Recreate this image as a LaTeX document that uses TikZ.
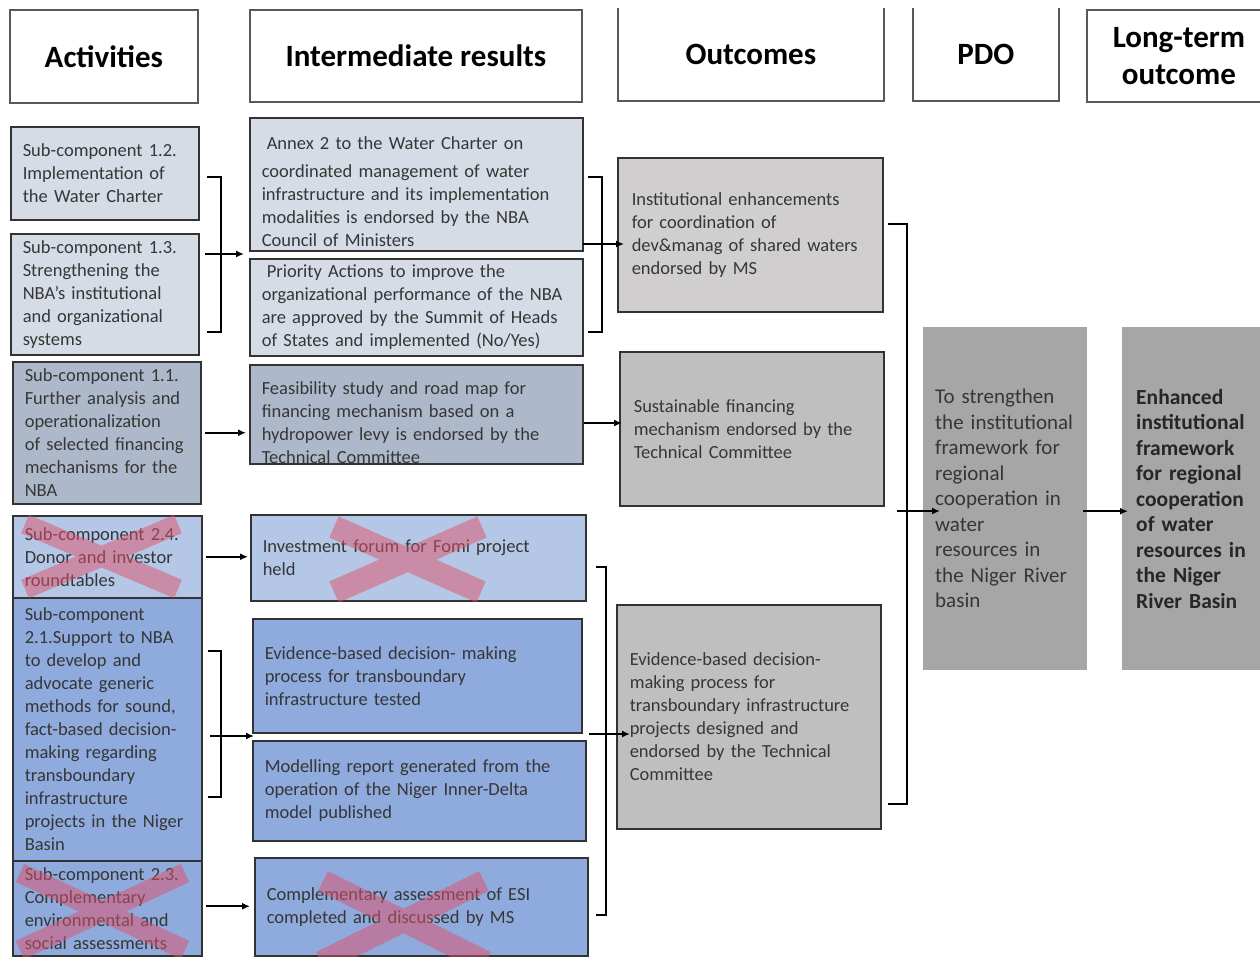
\documentclass[tikz,border=0pt]{standalone}
\usepackage{fontspec}
\setmainfont{Carlito}
\usetikzlibrary{arrows.meta}
\definecolor{cA}{HTML}{D6DCE5}
\definecolor{cB}{HTML}{ADB9CA}
\definecolor{cC}{HTML}{B4C7E7}
\definecolor{cD}{HTML}{8FAADC}
\definecolor{cE}{HTML}{D0CECE}
\definecolor{cF}{HTML}{BFBFBF}
\definecolor{cG}{HTML}{A6A6A6}
\definecolor{crossc}{RGB}{225,80,105}
\definecolor{txt}{HTML}{363636}
\begin{document}
\begin{tikzpicture}[x=1pt,y=-1pt,
  box/.style={draw=black!80, line width=1.5pt, anchor=north west, inner xsep=12pt, inner ysep=0pt,
    align=left, font=\fontsize{18.5}{23}\selectfont, text=txt},
  hdr/.style={draw=black!65, line width=1.8pt, anchor=north west, inner sep=0pt, align=center,
    font=\fontsize{31}{37}\selectfont\bfseries, text=black},
  hdrnb/.style={hdr, draw=none},
  hline/.style={draw=black!65, line width=1.8pt},
  goal/.style={anchor=north west, fill=cG, inner xsep=12pt, inner ysep=0pt, align=left, text=txt,
    font=\fontsize{21}{25.5}\selectfont},
  brk/.style={draw=black, line width=1.6pt},
  arr/.style={-{Latex[length=8pt,width=7pt]}, line width=1.6pt},
  xcross/.style={draw=crossc, draw opacity=0.5, line cap=butt}
]
\useasboundingbox (0,0) rectangle (1260,956);
\clip (0,0) rectangle (1260,956);

% ---------- headers ----------
\node[hdr, minimum width=188pt, minimum height=93pt] (ha) at (9,9) {Activities};
\node[hdr, minimum width=332pt, minimum height=92pt] (hi) at (249,9) {Intermediate results};
\node[hdrnb, minimum width=264pt, minimum height=91pt] (ho) at (618,8) {Outcomes};
\draw[hline] (ho.north west) -- (ho.south west) -- (ho.south east) -- (ho.north east);
\node[hdrnb, minimum width=144pt, minimum height=91pt] (hp) at (913,8) {PDO};
\draw[hline] (hp.north west) -- (hp.south west) -- (hp.south east) -- (hp.north east);
\node[hdr, minimum width=184pt, minimum height=92pt] (hl) at (1086,9) {Long-term\\outcome};

% ---------- activities ----------
\node[box, fill=cA, minimum width=188pt, minimum height=93pt, text width=164pt] (s12) at (10,126)
  {Sub-component 1.2.\\Implementation of\\the Water Charter};
\node[box, fill=cA, minimum width=188pt, minimum height=121pt, text width=164pt] (s13) at (10,233)
  {Sub-component 1.3.\\Strengthening the\\NBA's institutional\\and organizational\\systems};
\node[box, fill=cB, minimum width=188pt, minimum height=142pt, text width=164pt] (s11) at (12,361)
  {Sub-component 1.1.\\Further analysis and\\operationalization\\of selected financing\\mechanisms for the\\NBA};
\node[box, fill=cC, minimum width=189pt, minimum height=82pt, text width=165pt] (s24) at (12,515)
  {Sub-component 2.4.\\Donor and investor\\roundtables};
\node[box, fill=cD, minimum width=189pt, minimum height=263pt, text width=165pt] (s21) at (12,597)
  {Sub-component\\2.1.Support to NBA\\to develop and\\advocate generic\\methods for sound,\\fact-based decision-\\making regarding\\transboundary\\infrastructure\\projects in the Niger\\Basin};
\node[box, fill=cD, minimum width=189pt, minimum height=95pt, text width=165pt] (s23) at (12,860)
  {Sub-component 2.3.\\Complementary\\environmental and\\social assessments};

% ---------- intermediate results ----------
\node[box, fill=cA, minimum width=333pt, minimum height=133pt, text width=309pt] (ann) at (249,117)
  {\rule{0pt}{28pt}\hspace*{5pt}Annex 2 to the Water Charter on\\[5pt]coordinated management of water\\infrastructure and its implementation\\modalities is endorsed by the NBA\\Council of Ministers};
\node[box, fill=cA, minimum width=333pt, minimum height=97pt, text width=309pt] (pri) at (249,258)
  {\hspace*{5pt}Priority Actions to improve the\\organizational performance of the NBA\\are approved by the Summit of Heads\\of States and implemented (No/Yes)};
\node[box, fill=cB, minimum width=333pt, minimum height=98pt, text width=309pt] (fea) at (249,364)
  {\rule{0pt}{30pt}Feasibility study and road map for\\financing mechanism based on a\\hydropower levy is endorsed by the\\Technical Committee};
\node[box, fill=cC, minimum width=335pt, minimum height=86pt, text width=311pt] (inv) at (250,514)
  {Investment forum for Fomi project\\held};
\node[box, fill=cD, minimum width=329pt, minimum height=114pt, text width=305pt] (evi) at (252,618)
  {Evidence-based decision- making\\process for transboundary\\infrastructure tested};
\node[box, fill=cD, minimum width=333pt, minimum height=100pt, text width=309pt] (mod) at (252,740)
  {Modelling report generated from the\\operation of the Niger Inner-Delta\\model published};
\node[box, fill=cD, minimum width=333pt, minimum height=98pt, text width=309pt] (com) at (254,857)
  {Complementary assessment of ESI\\completed and discussed by MS};

% ---------- outcomes ----------
\node[box, fill=cE, minimum width=265pt, minimum height=154pt, inner xsep=14pt, text width=237pt] (oin) at (617,157)
  {Institutional enhancements\\for coordination of\\dev\&manag of shared waters\\endorsed by MS};
\node[box, fill=cF, minimum width=264pt, minimum height=154pt, inner xsep=14pt, text width=236pt] (osu) at (619,351)
  {Sustainable financing\\mechanism endorsed by the\\Technical Committee};
\node[box, fill=cF, minimum width=264pt, minimum height=224pt, inner xsep=13pt, text width=238pt] (oev) at (616,604)
  {Evidence-based decision-\\making process for\\transboundary infrastructure\\projects designed and\\endorsed by the Technical\\Committee};

% ---------- PDO and long-term ----------
\node[goal, minimum width=164pt, minimum height=343pt, text width=140pt] (pdo) at (923,327)
  {To strengthen\\the institutional\\framework for\\regional\\cooperation in\\water\\resources in\\the Niger River\\basin};
\node[goal, minimum width=150pt, minimum height=343pt, inner xsep=14pt, text width=122pt,
  font=\fontsize{21.5}{25.5}\selectfont\bfseries, text=black!85] (lt) at (1122,327)
  {Enhanced\\institutional\\framework\\for regional\\cooperation\\of water\\resources in\\the Niger\\River Basin};

% ---------- crosses ----------
\begin{scope}
  \clip (s24.north west) rectangle (s24.south east);
  \draw[xcross, line width=20pt] (25,524) -- (178,589) (178,524) -- (25,589);
\end{scope}
\begin{scope}
  \clip (s23.north west) rectangle (s23.south east);
  \draw[xcross, line width=20pt] (20,873) -- (185,950) (185,873) -- (20,950);
\end{scope}
\begin{scope}
  \clip (inv.north west) rectangle (inv.south east);
  \draw[xcross, line width=23pt] (334,527) -- (481,592) (482,527) -- (334,592);
\end{scope}
\begin{scope}
  \clip (com.north west) rectangle (com.south east);
  \draw[xcross, line width=22pt] (323,881) -- (486,962) (484,881) -- (321,962);
\end{scope}

% ---------- brackets and arrows ----------
\coordinate (ab1t) at (207,177);
\coordinate (ab1b) at (207,332);
\coordinate (ab1s) at (205,254);
\coordinate (ab1e) at (244,254);
\draw[brk] (ab1t) -- ++(14,0) |- (ab1b);
\draw[arr] (ab1s) -- (ab1e);

\draw[arr, shorten <=3pt, shorten >=3pt] (s11.east) -- (s11.east -| fea.west);
\draw[arr, shorten <=3pt, shorten >=2pt] (s24.east) -- (s24.east -| inv.west);

\coordinate (ab2t) at (208,651);
\coordinate (ab2b) at (208,797);
\coordinate (ab2s) at (210,736);
\coordinate (ab2e) at (254,736);
\draw[brk] (ab2t) -- ++(13,0) |- (ab2b);
\draw[arr] (ab2s) -- (ab2e);

\draw[arr, shorten <=3pt, shorten >=4pt] ([yshift=2pt]s23.east) -- ([yshift=2pt]s23.east -| com.west);

\coordinate (ib1t) at (588,177);
\coordinate (ib1b) at (588,332);
\coordinate (ib1s) at (583,244);
\coordinate (ib1e) at (624,244);
\draw[brk] (ib1t) -- ++(14,0) |- (ib1b);
\draw[arr] (ib1s) -- (ib1e);

\coordinate (fos) at (584,423);
\coordinate (foe) at (622,423);
\draw[arr] (fos) -- (foe);

\coordinate (ib2t) at (596,567);
\coordinate (ib2b) at (596,915);
\coordinate (ib2s) at (589,734);
\coordinate (ib2e) at (630,734);
\draw[brk] (ib2t) -- ++(10,0) |- (ib2b);
\draw[arr] (ib2s) -- (ib2e);

\coordinate (ob1t) at (888,224);
\coordinate (ob1b) at (888,804);
\coordinate (ob1s) at (897,511);
\coordinate (ob1e) at (940,511);
\draw[brk] (ob1t) -- ++(19,0) |- (ob1b);
\draw[arr] (ob1s) -- (ob1e);

\draw[arr] ([xshift=-4pt,yshift=-12.5pt]pdo.east) -- ([xshift=6pt,yshift=-12.5pt]pdo.east -| lt.west);
\end{tikzpicture}
\end{document}
